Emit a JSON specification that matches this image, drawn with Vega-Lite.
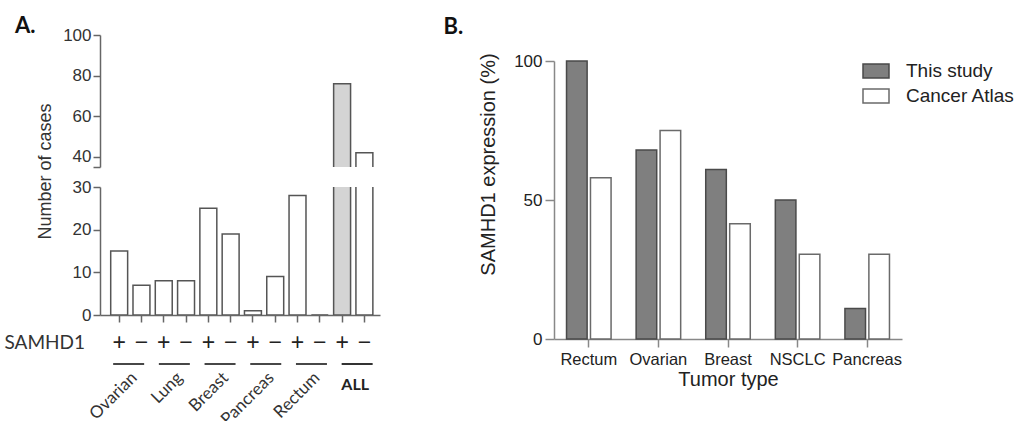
{
  "$schema": "https://vega.github.io/schema/vega-lite/v6.json",
  "padding": {"left": 4, "top": 15, "right": 0, "bottom": 0},
  "background": "white",
  "config": {
    "font": "Liberation Sans",
    "view": {"stroke": null},
    "axis": {"grid": false, "labelColor": "#333", "titleColor": "#333", "titleFontWeight": "normal", "labelFont": "Liberation Sans", "titleFont": "Liberation Sans"}
  },
  "datasets": {
    "cases": [
      {"tumor": "Ovarian", "s": "+", "key": "Ovarian+", "n": 15},
      {"tumor": "Ovarian", "s": "\u2212", "key": "Ovarian\u2212", "n": 7},
      {"tumor": "Lung", "s": "+", "key": "Lung+", "n": 8},
      {"tumor": "Lung", "s": "\u2212", "key": "Lung\u2212", "n": 8},
      {"tumor": "Breast", "s": "+", "key": "Breast+", "n": 25},
      {"tumor": "Breast", "s": "\u2212", "key": "Breast\u2212", "n": 19},
      {"tumor": "Pancreas", "s": "+", "key": "Pancreas+", "n": 1},
      {"tumor": "Pancreas", "s": "\u2212", "key": "Pancreas\u2212", "n": 9},
      {"tumor": "Rectum", "s": "+", "key": "Rectum+", "n": 28},
      {"tumor": "Rectum", "s": "\u2212", "key": "Rectum\u2212", "n": 0},
      {"tumor": "ALL", "s": "+", "key": "ALL+", "n": 76},
      {"tumor": "ALL", "s": "\u2212", "key": "ALL\u2212", "n": 42}
    ],
    "expr": [
      {"tumor": "Rectum", "source": "This study", "value": 100},
      {"tumor": "Rectum", "source": "Cancer Atlas", "value": 58},
      {"tumor": "Ovarian", "source": "This study", "value": 68},
      {"tumor": "Ovarian", "source": "Cancer Atlas", "value": 75},
      {"tumor": "Breast", "source": "This study", "value": 61},
      {"tumor": "Breast", "source": "Cancer Atlas", "value": 41.5},
      {"tumor": "NSCLC", "source": "This study", "value": 50},
      {"tumor": "NSCLC", "source": "Cancer Atlas", "value": 30.5},
      {"tumor": "Pancreas", "source": "This study", "value": 11},
      {"tumor": "Pancreas", "source": "Cancer Atlas", "value": 30.5}
    ]
  },
  "spacing": 63,
  "hconcat": [
    {
      "bounds": "flush",
      "spacing": 20,
      "vconcat": [
        {
          "title": {"text": "A.", "anchor": "start", "frame": "group", "font": "Lato", "fontSize": 22, "fontWeight": "bold", "color": "#111", "dx": -85, "offset": -29, "baseline": "alphabetic"},
          "width": 280,
          "height": 132,
          "data": {"name": "cases"},
          "mark": {"type": "bar", "clip": true, "stroke": "#555", "strokeWidth": 1.5},
          "encoding": {
            "x": {"field": "key", "type": "nominal", "sort": null, "axis": null, "scale": {"paddingInner": 0.24, "paddingOuter": 0.4, "align": 0.6}},
            "y": {"field": "n", "type": "quantitative", "scale": {"domain": [35, 100], "nice": false, "zero": false},
              "axis": {"values": [35, 40, 60, 80, 100], "labelExpr": "datum.value == 35 ? '' : datum.label", "title": "Number of cases", "titleX": -55, "titleY": 136, "titleAngle": -90, "titleAlign": "center", "titleBaseline": "middle", "titleFontSize": 18, "labelFontSize": 17, "labelPadding": 2, "tickSize": 7, "tickWidth": 1.5, "tickColor": "#666", "domainColor": "#666", "domainWidth": 1.5}},
            "fill": {"condition": {"test": "datum.key === 'ALL+'", "value": "#d4d4d4"}, "value": "#ffffff"}
          }
        },
        {
          "width": 280,
          "height": 128,
          "data": {"name": "cases"},
          "mark": {"type": "bar", "clip": true, "stroke": "#555", "strokeWidth": 1.5},
          "encoding": {
            "x": {"field": "key", "type": "nominal", "sort": null, "scale": {"paddingInner": 0.24, "paddingOuter": 0.4, "align": 0.6},
              "axis": {"title": "SAMHD1", "labelExpr": "slice(datum.value, -1)", "labelAngle": 0, "labelFontSize": 23, "labelBaseline": "middle", "labelPadding": 20, "labelOverlap": false, "labelColor": "#222", "tickSize": 7, "tickColor": "#666", "tickWidth": 1.5, "domainColor": "#666", "domainWidth": 1.5, "titleX": -96, "titleY": 27, "titleAlign": "left", "titleBaseline": "middle", "titleFont": "Lato", "titleFontSize": 19, "titleAngle": 0}},
            "y": {"field": "n", "type": "quantitative", "scale": {"domain": [0, 30], "nice": false},
              "axis": {"values": [0, 10, 20, 30], "title": null, "labelFontSize": 17, "labelPadding": 2, "tickSize": 7, "tickWidth": 1.5, "tickColor": "#666", "domainColor": "#666", "domainWidth": 1.5}},
            "fill": {"condition": {"test": "datum.key === 'ALL+'", "value": "#d4d4d4"}, "value": "#ffffff"}
          }
        },
        {
          "width": 280,
          "height": 58,
          "data": {"name": "cases"},
          "transform": [{"filter": "datum.s === '+'"}],
          "encoding": {
            "x": {"field": "tumor", "type": "nominal", "sort": null, "axis": null,
              "scale": {"domain": ["Ovarian", "Lung", "Breast", "Pancreas", "Rectum", "ALL"], "paddingInner": 0, "paddingOuter": 0.0635, "align": 1}}
          },
          "layer": [
            {"mark": {"type": "tick", "orient": "horizontal", "size": 31, "thickness": 1.8, "color": "#333", "opacity": 1}},
            {"transform": [{"filter": "datum.tumor !== 'ALL'"}],
              "mark": {"type": "text", "angle": 315, "align": "right", "baseline": "middle", "dx": -4, "dy": 12, "font": "Lato", "fontSize": 17, "color": "#333"},
              "encoding": {"text": {"field": "tumor"}}},
            {"transform": [{"filter": "datum.tumor === 'ALL'"}],
              "mark": {"type": "text", "align": "center", "baseline": "middle", "dx": -2, "dy": 21, "font": "Lato", "fontSize": 16, "fontWeight": "bold", "color": "#222"},
              "encoding": {"text": {"field": "tumor"}}}
          ]
        }
      ]
    },
    {
      "bounds": "flush",
      "spacing": 20,
      "vconcat": [
        {
          "width": 1,
          "height": 6,
          "data": {"values": [{"label": "B."}]},
          "mark": {"type": "text", "align": "left", "baseline": "alphabetic", "dx": -111, "dy": -4, "font": "Lato", "fontSize": 22, "fontWeight": "bold", "color": "#111"},
          "encoding": {"text": {"field": "label"}}
        },
        {
          "width": 348,
          "height": 278,
          "data": {"name": "expr"},
          "mark": {"type": "bar", "strokeWidth": 1.5},
          "encoding": {
            "x": {"field": "tumor", "type": "nominal", "sort": null, "scale": {"paddingInner": 0.36, "paddingOuter": 0.18},
              "axis": {"title": "Tumor type", "labelAngle": 0, "labelFontSize": 16.5, "labelPadding": 4, "labelColor": "#222", "tickSize": 8, "tickWidth": 1.5, "tickColor": "#888", "domainColor": "#888", "domainWidth": 1.5, "titleFontSize": 20, "titlePadding": 2, "titleColor": "#222"}},
            "xOffset": {"field": "source", "type": "nominal", "sort": ["This study", "Cancer Atlas"], "scale": {"paddingInner": 0.14, "paddingOuter": 0}},
            "y": {"field": "value", "type": "quantitative", "scale": {"domain": [0, 100], "nice": false},
              "axis": {"values": [0, 50, 100], "title": "SAMHD1 expression (%)", "titleX": -66, "titleY": 103, "titleAngle": -90, "titleAlign": "center", "titleBaseline": "middle", "titleFontSize": 20, "titleColor": "#222", "labelFontSize": 17, "labelPadding": 3, "labelColor": "#222", "tickSize": 9, "tickWidth": 1.5, "tickColor": "#888", "domainColor": "#888", "domainWidth": 1.5}},
            "fill": {"field": "source", "type": "nominal", "sort": ["This study", "Cancer Atlas"],
              "scale": {"domain": ["This study", "Cancer Atlas"], "range": ["#7f7f7f", "#ffffff"]},
              "legend": {"title": null, "orient": "none", "legendX": 762, "legendY": 22, "padding": 0, "symbolType": "M-1,-0.54H1V0.54H-1Z", "symbolSize": 676, "symbolStrokeColor": "#6a6a6a", "symbolStrokeWidth": 1.5, "symbolOpacity": 1, "labelFontSize": 19, "labelColor": "#222", "labelOffset": 16, "rowPadding": -1, "labelFont": "Liberation Sans"}},
            "stroke": {"field": "source", "type": "nominal", "scale": {"domain": ["This study", "Cancer Atlas"], "range": ["#4a4a4a", "#6a6a6a"]}, "legend": null}
          }
        }
      ]
    }
  ]
}
